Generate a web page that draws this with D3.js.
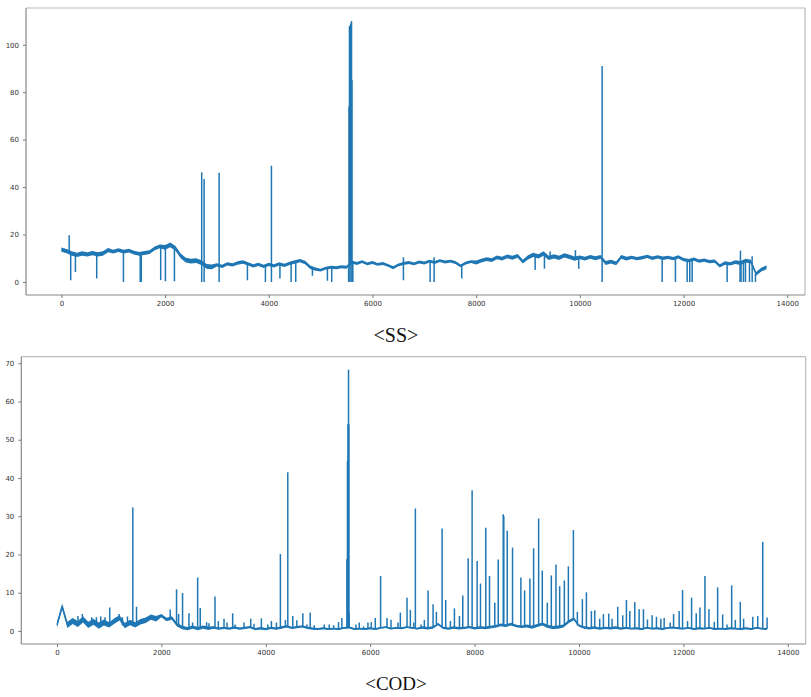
<!DOCTYPE html>
<html>
<head>
<meta charset="utf-8">
<script src="https://cdn.jsdelivr.net/npm/d3@7"></script>
<style>
  html, body { margin: 0; padding: 0; background: #fff; }
  svg { display: block; }
  .tick text { font-family: "DejaVu Sans", sans-serif; }
</style>
</head>
<body>
<svg id="chart" width="811" height="697"></svg>
<script>
// ---------------- DATA ----------------
// sample index step used for the baseline readings
const sampleStep = 100;
// step of the noise-spread readings (one per 1000 samples)
const spreadStep = 1000;

// <SS> baseline readings, one per 100 samples (index 0 .. 13600)
const ssBaseline = [
  13.6, 13.0, 12.0, 11.4, 12.0, 11.6, 12.2, 11.6, 12.0, 13.4,
  12.8, 13.4, 12.8, 13.2, 12.4, 11.8, 12.2, 12.6, 14.2, 15.0,
  14.6, 15.6, 14.2, 11.0, 9.2, 8.8, 9.0, 8.2, 6.6, 6.4,
  7.2, 6.6, 7.6, 7.2, 8.0, 8.4, 7.6, 6.8, 7.4, 6.6,
  7.4, 6.8, 7.6, 7.0, 7.8, 8.4, 9.0, 8.2, 6.2, 5.4,
  5.0, 5.8, 6.2, 6.0, 6.4, 6.2, 8.4, 7.8, 8.6, 7.6,
  8.2, 7.4, 7.8, 7.0, 6.0, 7.2, 7.8, 8.2, 7.6, 8.4,
  8.0, 8.8, 8.2, 9.0, 8.4, 8.8, 8.2, 6.8, 8.0, 8.6,
  8.2, 9.0, 9.6, 9.2, 10.4, 9.8, 10.8, 10.2, 11.0, 8.6,
  10.4, 11.4, 10.8, 12.0, 10.2, 10.8, 10.2, 11.2, 10.6, 9.8,
  10.4, 9.8, 10.6, 10.0, 10.6, 8.0, 8.6, 7.8, 10.6, 9.8,
  10.4, 9.8, 10.2, 10.8, 10.0, 10.6, 10.0, 10.4, 9.8, 10.6,
  9.4, 9.0, 9.6, 8.8, 9.2, 8.6, 8.8, 6.8, 8.0, 7.6,
  8.4, 8.0, 9.0, 8.6, 3.4, 5.2, 6.2
];
// half-thickness of the noisy band around the <SS> baseline, one per 1000 samples
const ssSpread = [0.9, 0.8, 1.0, 0.7, 0.7, 0.6, 0.6, 0.6, 0.8, 0.9, 0.8, 0.7, 0.7, 0.8];

// <SS> spikes: sample index and value reached
const ssSpikeX = [150, 179, 270, 681, 1196, 1520, 1540, 1915, 2006, 2180,
  2706, 2706, 2753, 2753, 3042, 3042, 3588, 3935, 4051, 4051,
  4215, 4431, 4520, 4842, 5131, 5214,
  5540, 5548, 5556, 5564, 5572, 5580, 5588, 5596, 5604, 5612, 5620,
  6597, 6597, 7112, 7189, 7189, 7722, 9138, 9317, 9427, 9915, 9979,
  10430, 10430, 11588, 11844, 12070, 12120, 12166, 12841,
  13090, 13098, 13110, 13156, 13195, 13272, 13324, 13324, 13387];
const ssSpikeY = [19.7, 0.7, 4.2, 1.5, 0, 0, 0, 0.8, 0.3, 0.3,
  46.2, 0, 43.4, 0, 46.0, 0, 0.7, 0, 49.0, 0,
  1.5, 0, 0, 2.6, 0.5, 0,
  0, 74, 108, 0, 74, 109, 0, 110, 85, 0, 0,
  10.4, 0.7, 0, 10.4, 0, 1.5, 5.0, 5.6, 12.8, 13.4, 5.6,
  91, 0, 0, 0, 0, 0, 0, 0,
  0, 13.2, 0, 0, 0, 0, 10.8, 0, 0];

// <COD> baseline readings, one per 100 samples (index 0 .. 13600)
const codBaseline = [
  1.6, 6.4, 1.6, 2.6, 1.8, 3.0, 1.6, 2.4, 1.4, 2.2,
  1.6, 2.6, 3.4, 1.4, 2.2, 1.6, 2.4, 2.8, 3.6, 3.2,
  4.0, 3.0, 3.4, 1.6, 0.9, 0.6, 1.0, 0.6, 1.0, 0.7,
  0.9, 0.6, 0.8, 0.6, 0.9, 0.6, 0.8, 1.0, 0.5, 0.7,
  0.5, 0.8, 0.6, 0.9, 1.2, 0.8, 1.0, 1.2, 0.8, 0.6,
  0.5, 0.7, 0.5, 0.6, 0.5, 0.8, 0.9, 0.5, 0.6, 0.5,
  0.7, 0.5, 0.8, 1.0, 0.6, 0.8, 0.7, 1.0, 0.8, 0.6,
  0.9, 0.7, 0.9, 1.8, 0.8, 0.6, 0.9, 0.7, 0.8, 1.0,
  0.7, 0.9, 0.8, 1.0, 1.2, 1.6, 1.4, 1.8, 1.3, 1.1,
  1.3, 1.0, 1.4, 1.8, 1.2, 0.9, 1.0, 1.3, 2.4, 3.2,
  1.4, 0.9, 0.7, 0.9, 0.6, 0.8, 0.7, 0.9, 0.6, 0.8,
  0.6, 0.7, 0.5, 0.8, 0.6, 0.7, 0.5, 0.8, 0.9, 0.7,
  0.6, 0.8, 0.5, 0.7, 0.6, 0.8, 0.5, 0.6, 0.5, 0.7,
  0.6, 0.5, 0.7, 0.5, 0.8, 0.6, 0.5
];
// half-thickness of the noisy band around the <COD> baseline, one per 1000 samples
const codSpread = [0.8, 0.7, 0.45, 0.3, 0.3, 0.25, 0.25, 0.3, 0.35, 0.4, 0.3, 0.25, 0.25, 0.25];

// <COD> spikes: sample index and value reached
const codSpikeX = [403, 487, 666, 756, 839, 921, 1011, 1107, 1190, 1254,
  1351, 1453, 1524, 1606, 2169, 2291, 2330, 2406, 2528, 2598,
  2695, 2745, 2867, 2912, 3027, 3091, 3200, 3258, 3366, 3411,
  3584, 3712, 3776, 3916, 4039, 4108, 4204, 4280, 4376, 4422,
  4518, 4595, 4710, 4787, 4851, 4928, 5119, 5215, 5300, 5394,
  5458, 5555, 5565, 5575, 5585, 5592, 5598, 5727, 5791, 5874,
  5957, 6021, 6098, 6200, 6322, 6399, 6533, 6578, 6706, 6770,
  6834, 6866, 6974, 7038, 7109, 7205, 7269, 7378, 7447, 7537,
  7614, 7710, 7774, 7877, 7953, 8049, 8113, 8215, 8286, 8387,
  8453, 8549, 8560, 8625, 8727, 8887, 8958, 9060, 9131, 9227,
  9297, 9393, 9470, 9559, 9630, 9720, 9797, 9893, 9969, 10065,
  10142, 10238, 10302, 10397, 10468, 10570, 10634, 10742, 10838, 10909,
  10973, 11069, 11152, 11235, 11312, 11401, 11484, 11568, 11632, 11747,
  11812, 11919, 11984, 12080, 12157, 12246, 12317, 12413, 12490, 12592,
  12656, 12752, 12835, 12925, 12995, 13090, 13154, 13328, 13424, 13520,
  13603];
const codSpikeY = [3.9, 4.4, 3.6, 3.6, 3.8, 3.6, 6.1, 3.3, 4.4, 3.6,
  3.8, 32.3, 6.3, 3.0, 5.6, 10.9, 4.4, 9.9, 4.6, 2.2,
  14.0, 6.0, 2.3, 2.0, 9.0, 2.6, 3.2, 2.2, 4.6, 1.7,
  2.2, 3.2, 1.9, 3.3, 1.7, 2.6, 2.2, 20.1, 2.9, 41.5,
  3.9, 2.8, 4.6, 1.7, 4.8, 1.5, 1.7, 1.7, 1.5, 2.3,
  3.4, 18.8, 44.5, 54.1, 68.3, 54.0, 4.8, 1.7, 2.2, 1.2,
  2.2, 2.3, 3.4, 14.4, 3.4, 2.9, 2.2, 4.8, 8.7, 5.5,
  2.2, 32.0, 1.7, 2.9, 10.6, 7.0, 5.0, 26.8, 8.1, 2.6,
  5.9, 3.9, 9.3, 19.0, 36.8, 18.3, 12.4, 27.0, 14.4, 7.4,
  18.7, 30.5, 30.0, 26.2, 21.8, 14.0, 10.6, 13.7, 21.6, 29.4,
  15.8, 7.4, 14.5, 17.4, 11.7, 13.2, 16.9, 26.4, 5.0, 8.3,
  10.1, 5.2, 5.4, 3.2, 4.4, 4.5, 3.2, 6.3, 4.1, 8.1,
  5.2, 7.6, 5.7, 5.7, 3.0, 4.1, 3.7, 3.2, 3.4, 2.2,
  4.4, 5.2, 10.7, 2.6, 8.7, 4.6, 6.1, 14.4, 5.7, 2.4,
  11.4, 4.3, 1.7, 11.9, 2.9, 7.6, 3.2, 3.7, 3.9, 23.3,
  3.5];

const xTicks = [0, 2000, 4000, 6000, 8000, 10000, 12000, 14000];
const ssYTicks = [0, 20, 40, 60, 80, 100];
const codYTicks = [0, 10, 20, 30, 40, 50, 60, 70];
const titles = ["<SS>", "<COD>"];

// ---------------- DRAW ----------------
const svg = d3.select("#chart");
const lineColor = "#1f77b4";

function panel(cfg) {
  const x = d3.scaleLinear().domain(cfg.xDomain).range([cfg.left, cfg.right]);
  const y = d3.scaleLinear().domain(cfg.yDomain).range([cfg.bottom, cfg.top]);
  const g = svg.append("g");

  const clipId = "clip" + cfg.id;
  svg.append("clipPath").attr("id", clipId).append("rect")
    .attr("x", cfg.left).attr("y", cfg.top)
    .attr("width", cfg.right - cfg.left).attr("height", cfg.bottom - cfg.top);

  const plot = g.append("g").attr("clip-path", `url(#${clipId})`);

  const pts = cfg.base.map((v, i) => ({
    s: i * sampleStep, v: v,
    w: cfg.spread[Math.min(cfg.spread.length - 1, Math.floor(i * sampleStep / spreadStep))]
  }));
  const line = d3.line().x(d => x(d[0])).y(d => y(d[1]));

  // spikes
  const spikes = cfg.spikeX.map((sx, i) => {
    const foot = cfg.base[Math.min(cfg.base.length - 1, Math.round(sx / sampleStep))];
    return [[sx, foot], [sx, cfg.spikeY[i]]];
  });
  plot.selectAll("path.spike").data(spikes).join("path")
    .attr("class", "spike")
    .attr("d", line)
    .attr("fill", "none")
    .attr("stroke", lineColor)
    .attr("stroke-width", 1.5);

  // noisy band
  const band = d3.area()
    .x(d => x(d.s))
    .y0(d => y(d.v - d.w))
    .y1(d => y(d.v + d.w));
  plot.append("path")
    .datum(pts)
    .attr("d", band)
    .attr("fill", lineColor)
    .attr("stroke", "none");

  plot.append("path")
    .datum(pts)
    .attr("d", d3.line().x(d => x(d.s)).y(d => y(d.v)))
    .attr("fill", "none")
    .attr("stroke", lineColor)
    .attr("stroke-width", 1.3)
    .attr("stroke-linejoin", "round");

  // axes
  const xAxis = d3.axisBottom(x).tickValues(xTicks).tickSize(3).tickPadding(3)
    .tickFormat(d3.format("d"));
  const yAxis = d3.axisLeft(y).tickValues(cfg.yTicks).tickSize(3).tickPadding(4)
    .tickFormat(d3.format("d"));
  const gx = g.append("g").attr("transform", `translate(0,${cfg.bottom})`).call(xAxis);
  const gy = g.append("g").attr("transform", `translate(${cfg.left},0)`).call(yAxis);
  [gx, gy].forEach(a => {
    a.select(".domain").remove();
    a.selectAll(".tick line").attr("stroke", "#777");
    a.selectAll(".tick text").attr("fill", "#333").style("font-size", "7px");
  });

  // frame
  g.append("line").attr("x1", cfg.left).attr("x2", cfg.right).attr("y1", cfg.top).attr("y2", cfg.top)
    .attr("stroke", "#bbb").attr("stroke-width", 1.2);
  g.append("line").attr("x1", cfg.right).attr("x2", cfg.right).attr("y1", cfg.top).attr("y2", cfg.bottom)
    .attr("stroke", "#bbb").attr("stroke-width", 1.2);
  g.append("line").attr("x1", cfg.left).attr("x2", cfg.left).attr("y1", cfg.top).attr("y2", cfg.bottom)
    .attr("stroke", "#888").attr("stroke-width", 1.2);
  g.append("line").attr("x1", cfg.left).attr("x2", cfg.right).attr("y1", cfg.bottom).attr("y2", cfg.bottom)
    .attr("stroke", "#888").attr("stroke-width", 1.2);

  // title under the panel
  svg.append("text")
    .attr("x", 396).attr("y", cfg.titleY)
    .attr("text-anchor", "middle")
    .attr("font-family", "'Liberation Serif', 'Times New Roman', serif")
    .attr("font-size", cfg.titleSize)
    .attr("fill", "#111")
    .text(cfg.title);
}

panel({
  id: "ss", left: 26, right: 805, top: 8, bottom: 295,
  xDomain: [-683, 14343], yDomain: [-5.5, 115.5],
  base: ssBaseline, spread: ssSpread, spikeX: ssSpikeX, spikeY: ssSpikeY,
  yTicks: ssYTicks, title: titles[0], titleY: 341.5, titleSize: 20
});

panel({
  id: "cod", left: 21.3, right: 805.7, top: 356.7, bottom: 644,
  xDomain: [-683, 14343], yDomain: [-3.415, 71.715],
  base: codBaseline, spread: codSpread, spikeX: codSpikeX, spikeY: codSpikeY,
  yTicks: codYTicks, title: titles[1], titleY: 690, titleSize: 19
});
</script>
</body>
</html>
